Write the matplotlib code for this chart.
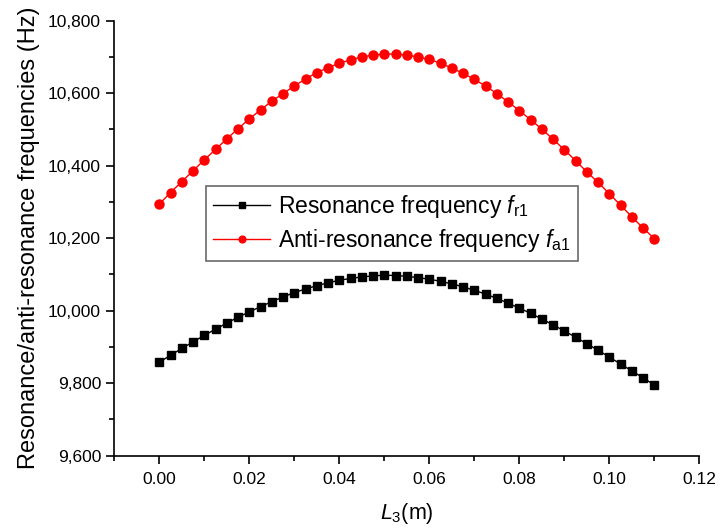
import numpy as np
from matplotlib import pyplot as plt
from matplotlib.ticker import MultipleLocator, FuncFormatter

plt.rcParams['font.family'] = ['Liberation Sans', 'DejaVu Sans']
plt.rcParams['mathtext.fontset'] = 'custom'
plt.rcParams['mathtext.rm'] = 'Liberation Sans'
plt.rcParams['mathtext.it'] = 'Liberation Sans:italic'

# length of section 3 (m), 0 to 0.11 in 0.0025 steps
L3 = [0.0, 0.0025, 0.005, 0.0075, 0.01, 0.0125, 0.015, 0.0175, 0.02, 0.0225,
      0.025, 0.0275, 0.03, 0.0325, 0.035, 0.0375, 0.04, 0.0425, 0.045, 0.0475,
      0.05, 0.0525, 0.055, 0.0575, 0.06, 0.0625, 0.065, 0.0675, 0.07, 0.0725,
      0.075, 0.0775, 0.08, 0.0825, 0.085, 0.0875, 0.09, 0.0925, 0.095, 0.0975,
      0.1, 0.1025, 0.105, 0.1075, 0.11]

# resonance frequency f_r1 (Hz)
f_r1 = [9858, 9877, 9896, 9914, 9932, 9949, 9966, 9982, 9997, 10011,
        10025, 10038, 10050, 10060, 10069, 10077, 10084, 10089, 10093, 10096,
        10098, 10097, 10095, 10091, 10087, 10081, 10074, 10066, 10056, 10046,
        10034, 10021, 10007, 9993, 9977, 9961, 9944, 9927, 9909, 9891,
        9872, 9853, 9834, 9815, 9795]

# anti-resonance frequency f_a1 (Hz)
f_a1 = [10294, 10326, 10356, 10386, 10416, 10445, 10474, 10502, 10529, 10554,
        10578, 10599, 10620, 10639, 10657, 10670, 10683, 10692, 10700, 10705,
        10708, 10708, 10705, 10700, 10693, 10683, 10669, 10655, 10638, 10620,
        10599, 10576, 10552, 10527, 10501, 10473, 10444, 10414, 10383, 10354,
        10323, 10291, 10259, 10228, 10199]

fig = plt.figure(figsize=(7.22, 5.32), dpi=100)
ax = fig.add_axes([0.1583, 0.1434, 0.8103, 0.8177])

ax.plot(L3, f_r1, color='black', lw=1, marker='s', ms=5.3, mec='black',
        label=r'Resonance frequency $f_{\mathrm{r1}}$')
ax.plot(L3, f_a1, color='red', lw=1, marker='o', ms=6.5, mec='red',
        label=r'Anti-resonance frequency $f_{\mathrm{a1}}$')

ax.set_xlim(-0.01, 0.12)
ax.set_ylim(9600, 10800)
ax.xaxis.set_major_locator(MultipleLocator(0.02))
ax.xaxis.set_minor_locator(MultipleLocator(0.01))
ax.yaxis.set_major_locator(MultipleLocator(200))
ax.yaxis.set_minor_locator(MultipleLocator(100))
ax.xaxis.set_major_formatter(FuncFormatter(lambda v, p: f'{v:.2f}'))
ax.yaxis.set_major_formatter(FuncFormatter(lambda v, p: f'{v:,.0f}'))

ax.spines['top'].set_visible(False)
ax.spines['right'].set_visible(False)
for s in ['left', 'bottom']:
    ax.spines[s].set_linewidth(1.2)
ax.tick_params(which='major', direction='out', length=6, width=1.2, labelsize=12.5)
ax.tick_params(axis='x', which='major', pad=6)
ax.tick_params(which='minor', direction='out', length=3.5, width=1.2)

ax.set_xlabel(r'$L_3$(m)', fontsize=15.5, labelpad=10)
ax.set_ylabel('Resonance/anti-resonance frequencies (Hz)', fontsize=17, labelpad=6)

leg = ax.legend(loc='upper left', bbox_to_anchor=(0.157, 0.62), fontsize=16.5,
                fancybox=False, edgecolor='#444444', handlelength=2.5,
                borderpad=0.3, labelspacing=0.3, handletextpad=0.35,
                borderaxespad=0, markerscale=0.75)
leg.get_frame().set_linewidth(1.2)

plt.savefig('out.png', dpi=100)
